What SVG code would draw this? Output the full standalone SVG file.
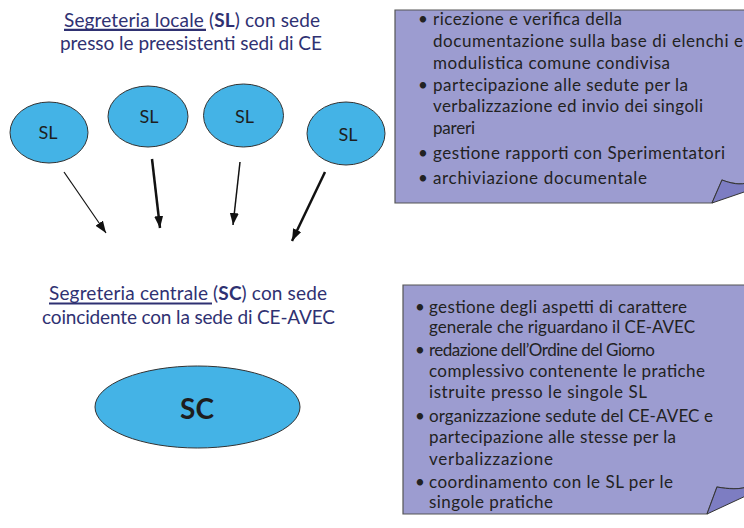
<svg xmlns="http://www.w3.org/2000/svg" width="744" height="528" viewBox="0 0 744 528">
<style>
.title{font-family:Lato,"Open Sans","Liberation Sans",sans-serif;font-size:19px;fill:#2f3172}
.ul{stroke:#2f3172;stroke-width:2.2}
.node{fill:#44b3e6;stroke:#333;stroke-width:1}
.lbl{font-family:Lato,"Open Sans","Liberation Sans",sans-serif;font-size:18px;fill:#1e1e1e;text-anchor:middle}
.big{font-size:28px;font-weight:bold}
.box{fill:#9c9cd0;stroke:#555;stroke-width:1.2}
.fold{fill:#7d7dc2;stroke:#333;stroke-width:1}
.bt{font-family:Lato,"Open Sans","Liberation Sans",sans-serif;font-size:17px;fill:#222}
.arr{stroke:#111;fill:none}
</style>
<defs>
<marker id="ah" markerUnits="userSpaceOnUse" markerWidth="13" markerHeight="10" refX="12" refY="4.5" orient="auto">
<path d="M0,0 L12,4.5 L0,9 z" fill="#111"/>
</marker>
</defs>

<g id="title-sl">
<text class="title" x="64" y="27" textLength="256">Segreteria locale (<tspan font-weight="bold">SL</tspan>) con sede</text>
<line class="ul" x1="64" y1="29.8" x2="206" y2="29.8"/>
<text class="title" x="60" y="50" textLength="262">presso le preesistenti sedi di CE</text>
</g>

<g id="sl1"><ellipse class="node" cx="49" cy="132.5" rx="39" ry="30.5"/><text class="lbl" x="48" y="139">SL</text></g>
<g id="sl2"><ellipse class="node" cx="148" cy="116.5" rx="40" ry="30.5"/><text class="lbl" x="149" y="123">SL</text></g>
<g id="sl3"><ellipse class="node" cx="243.5" cy="115.5" rx="40" ry="31.5"/><text class="lbl" x="244.5" y="123">SL</text></g>
<g id="sl4"><ellipse class="node" cx="346" cy="133.5" rx="39" ry="31.5"/><text class="lbl" x="348" y="141">SL</text></g>

<g id="connectors">
<line class="arr" stroke-width="1.2" x1="64" y1="172" x2="106" y2="233" marker-end="url(#ah)"/>
<line class="arr" stroke-width="2.5" x1="152" y1="159" x2="160" y2="228" marker-end="url(#ah)"/>
<line class="arr" stroke-width="1.5" x1="240" y1="162" x2="233" y2="225" marker-end="url(#ah)"/>
<line class="arr" stroke-width="2.5" x1="325" y1="172" x2="292" y2="241" marker-end="url(#ah)"/>
</g>

<g id="box-sl">
<path class="box" d="M395,10 H750 V182 C740,186 730,183 722,180 L712,203 H395 Z"/>
<path class="fold" d="M722,180 C730,183 740,186 750,182 V190 L712,203 Z"/>
<text class="bt" x="418" y="25">•</text>
<text class="bt" x="433" y="25" textLength="189">ricezione e verifica della</text>
<text class="bt" x="433" y="47" textLength="310">documentazione sulla base di elenchi e</text>
<text class="bt" x="433" y="69" textLength="237">modulistica comune condivisa</text>
<text class="bt" x="418" y="91">•</text>
<text class="bt" x="433" y="91" textLength="255">partecipazione alle sedute per la</text>
<text class="bt" x="433" y="112" textLength="270">verbalizzazione ed invio dei singoli</text>
<text class="bt" x="433" y="134" textLength="42">pareri</text>
<text class="bt" x="418" y="159">•</text>
<text class="bt" x="433" y="159" textLength="292">gestione rapporti con Sperimentatori</text>
<text class="bt" x="418" y="184">•</text>
<text class="bt" x="433" y="184" textLength="214">archiviazione documentale</text>
</g>

<g id="title-sc">
<text class="title" x="49" y="300" textLength="278">Segreteria centrale (<tspan font-weight="bold">SC</tspan>) con sede</text>
<line class="ul" x1="49" y1="303.5" x2="212" y2="303.5"/>
<text class="title" x="42" y="324" textLength="293">coincidente con la sede di CE-AVEC</text>
</g>

<g id="sc"><ellipse class="node" cx="197.5" cy="407" rx="102.5" ry="41"/><text class="lbl big" x="197" y="419">SC</text></g>

<g id="box-sc">
<path class="box" d="M403,285 H750 V486 C740,490 728,489 717,487 L707,514 H403 Z"/>
<path class="fold" d="M717,487 C728,489 740,490 750,486 V494 L707,514 Z"/>
<text class="bt" x="415" y="313">•</text>
<text class="bt" x="429" y="313" textLength="258">gestione degli aspetti di carattere</text>
<text class="bt" x="429" y="333" textLength="266">generale che riguardano il CE-AVEC</text>
<text class="bt" x="415" y="356">•</text>
<text class="bt" x="429" y="356" textLength="226">redazione dell’Ordine del Giorno</text>
<text class="bt" x="429" y="377" textLength="276">complessivo contenente le pratiche</text>
<text class="bt" x="429" y="398" textLength="218">istruite presso le singole SL</text>
<text class="bt" x="415" y="422">•</text>
<text class="bt" x="429" y="422" textLength="284">organizzazione sedute del CE-AVEC e</text>
<text class="bt" x="429" y="443" textLength="247">partecipazione alle stesse per la</text>
<text class="bt" x="429" y="465" textLength="124">verbalizzazione</text>
<text class="bt" x="415" y="488">•</text>
<text class="bt" x="429" y="488" textLength="244">coordinamento con le SL per le</text>
<text class="bt" x="429" y="508" textLength="124">singole pratiche</text>
</g>
</svg>
